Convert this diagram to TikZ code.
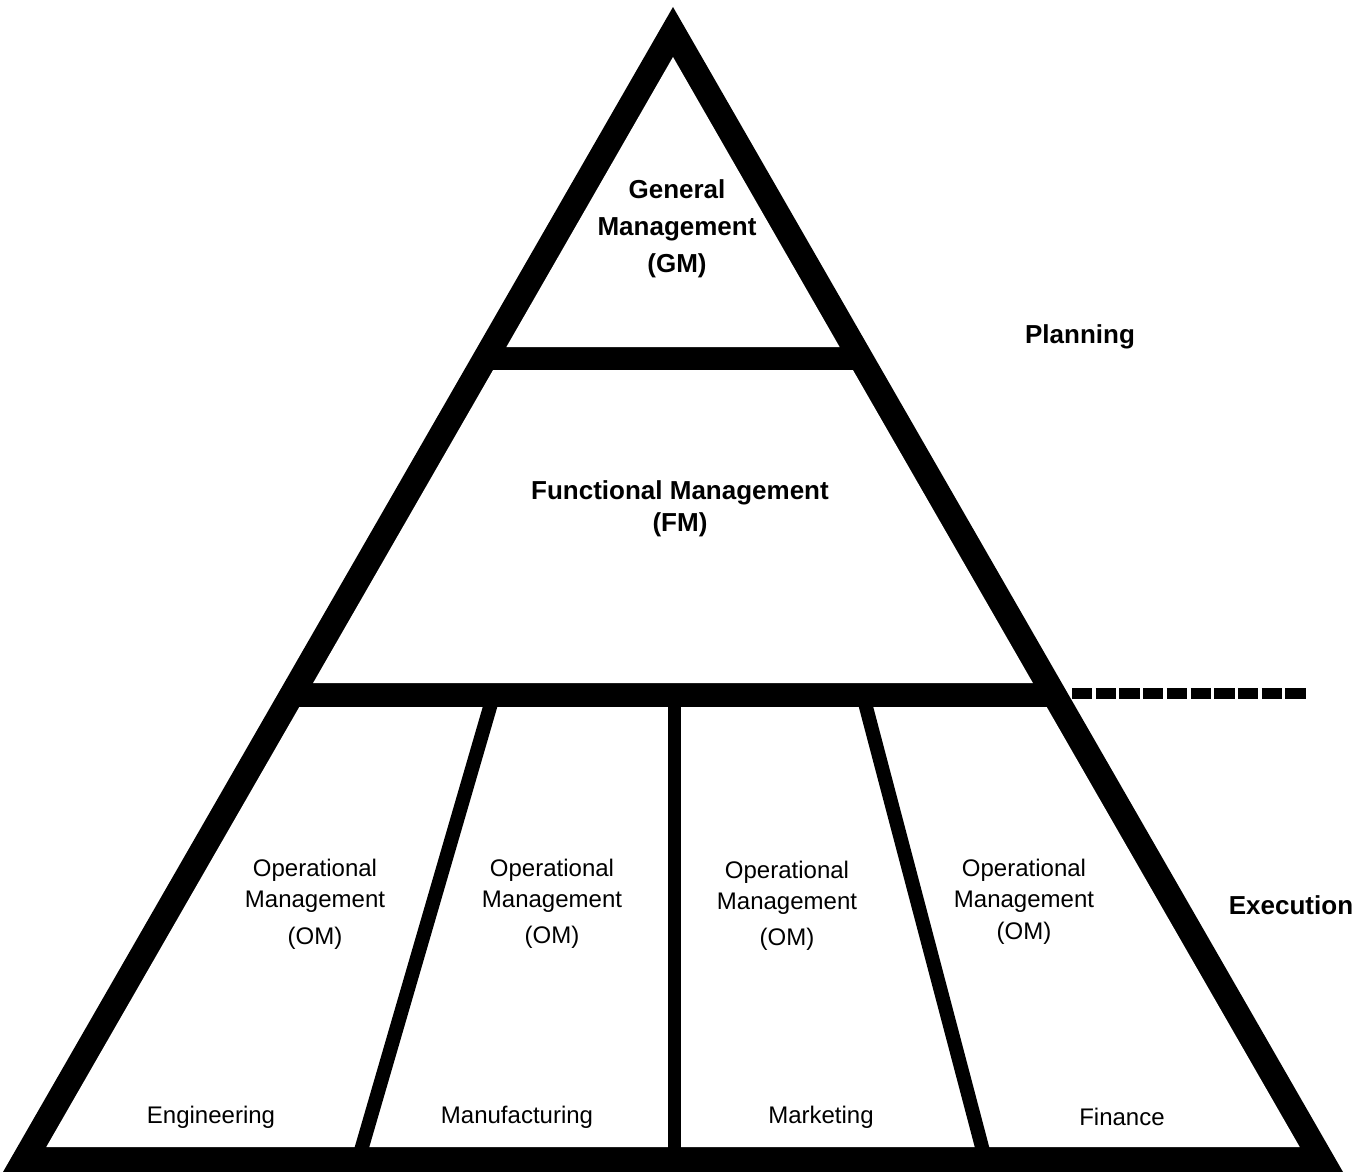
\documentclass[tikz,border=0pt]{standalone}
\usepackage{fontspec}
\setmainfont{Liberation Sans}
\begin{document}
            \begin{tikzpicture}[x=1pt,y=-1pt,
                head/.style={font=\fontsize{26}{37}\selectfont\bfseries, align=center, inner sep=0pt},
                unit/.style={font=\fontsize{24}{31}\selectfont, align=center, inner sep=0pt},
                bar/.style={line width=14pt}]
                \useasboundingbox (0,0) rectangle (1369,1172);

                \fill (673,7) -- (3,1172) -- (1343,1172) -- cycle;
                \fill[white] (673,57) -- (506.4,347) -- (839.6,347) -- cycle;
                \fill[white] (493.1,370) -- (852.9,370) -- (1032.9,683) -- (313.1,683) -- cycle;
                \fill[white] (299.3,707) -- (1046.7,707) -- (1299.7,1147) -- (46.3,1147) -- cycle;

                \coordinate (A) at (492.9,697);
                \coordinate (AA) at (359.1,1157);
                \coordinate (B) at (674,697);
                \coordinate (BB) at (674,1157);
                \coordinate (C) at (863.4,697);
                \coordinate (CC) at (984.6,1157);
                \draw[bar] (A)--(AA);
                \draw[line width=13pt] (B)--(BB);
                \draw[bar] (C)--(CC);

                \coordinate (D) at (1072,693.5);
                \coordinate (DD) at (1305.5,693.5);
                \draw[line width=11pt, dash pattern=on 20.3pt off 3.4pt] (D)--(DD);

                \node[head] (GM) at (677,229) {General\\Management\\(GM)};
                \node[head, font=\fontsize{26}{32}\selectfont\bfseries] (FM) at (680,509) {Functional Management\\(FM)};
                \node[head] (Plan) at (1080,337) {Planning};
                \node[head] (Exec) at (1291,905) {Execution};

                \node[unit] (OMa) at (315,904) {Operational\\Management\\[6pt](OM)};
                \node[unit] (OMb) at (552,904) {Operational\\Management\\[5pt](OM)};
                \node[unit] (OMc) at (787,906) {Operational\\Management\\[5pt](OM)};
                \node[unit] (OMd) at (1024,902) {Operational\\Management\\[1pt](OM)};

                \node[unit] (Eng) at (211,1117) {Engineering};
                \node[unit] (Man) at (517,1117) {Manufacturing};
                \node[unit] (Mar) at (821,1117) {Marketing};
                \node[unit] (Fin) at (1122,1117) {Finance};
            \end{tikzpicture}
\end{document}
